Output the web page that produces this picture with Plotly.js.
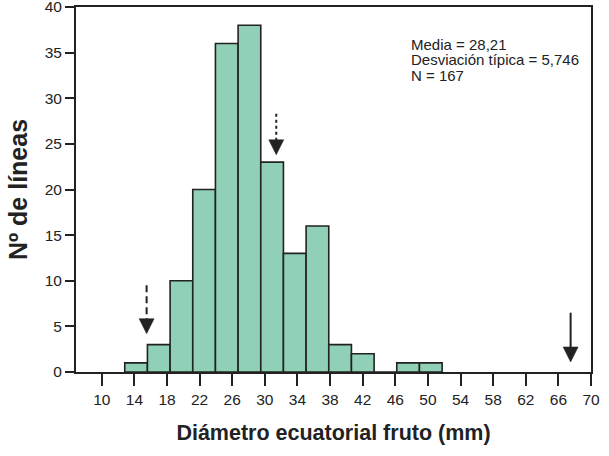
<!DOCTYPE html>
<html>
<head>
<meta charset="utf-8">
<script src="https://cdn.plot.ly/plotly-3.0.1.min.js"></script>
<style>
  html, body { margin: 0; padding: 0; background: #fff; }
  #chart { width: 609px; height: 456px; }
</style>
</head>
<body>
<div id="chart"></div>
<script>
// Histogram of equatorial fruit diameter (mm): bin layout and counts per bin
const binStart = 12.82;
const binWidth = 2.78;
const counts = [1, 3, 10, 20, 36, 38, 23, 13, 16, 3, 2, 0, 1, 1];

// Axis ticks
const xTickVals = [10, 14, 18, 22, 26, 30, 34, 38, 42, 46, 50, 54, 58, 62, 66, 70];
const yTickVals = [0, 5, 10, 15, 20, 25, 30, 35, 40];

// Summary statistics shown in the corner
const statLines = ['Media = 28,21', 'Desviación típica = 5,746', 'N = 167'];

// Marker arrows: x position, shaft top, tip (in data units) and shaft style
const arrowX = [15.5, 31.4, 67.5];
const arrowTop = [9.5, 28.3, 6.5];
const arrowTip = [4.2, 23.8, 1.1];
const arrowDash = ['7px,4px', 'dot', 'solid'];

const sans = 'Liberation Sans, Arial, Helvetica, sans-serif';
const ink = '#222222';
const HEAD_PX = 15;   // arrow head height in pixels
const HALF_W = 7.5;   // arrow head half-width in pixels

const centers = counts.map((_, i) => binStart + binWidth * (i + 0.5));

const bars = {
  type: 'bar',
  x: centers,
  y: counts,
  width: counts.map(() => binWidth),
  marker: { color: '#8fd0b6', line: { color: ink, width: 1.6 } },
  hoverinfo: 'x+y'
};

const shapes = [];
arrowX.forEach((x, i) => {
  // shaft from the top down into the head
  shapes.push({
    type: 'line', xref: 'x', yref: 'y',
    x0: x, x1: x, y0: arrowTop[i], y1: arrowTip[i] + 1.4,
    line: { color: ink, width: 2, dash: arrowDash[i] }
  });
  // head: downward triangle with its tip at arrowTip
  shapes.push({
    type: 'path', xref: 'x', yref: 'y',
    xsizemode: 'pixel', ysizemode: 'pixel',
    xanchor: x, yanchor: arrowTip[i],
    path: `M${-HALF_W},${HEAD_PX} L${HALF_W},${HEAD_PX} L0,0 Z`,
    fillcolor: ink, line: { color: ink, width: 0.5 }
  });
});

const statY = [35.9, 34.2, 32.5];
const annotations = statLines.map((t, i) => ({
  text: t, xref: 'x', yref: 'y', x: 47.7, y: statY[i],
  xanchor: 'left', yanchor: 'middle', showarrow: false,
  font: { family: sans, size: 15, color: ink }
}));

const layout = {
  width: 609, height: 456,
  margin: { l: 76, r: 18, t: 7, b: 84, pad: 0 },
  paper_bgcolor: '#ffffff', plot_bgcolor: '#ffffff',
  showlegend: false,
  bargap: 0,
  xaxis: {
    range: [6.84, 70],
    tickvals: xTickVals,
    ticktext: xTickVals.map(String),
    ticks: 'outside', ticklen: 12, tickwidth: 2, tickcolor: ink,
    showline: true, linecolor: ink, linewidth: 2, mirror: true,
    showgrid: false, zeroline: false,
    ticklabeloverflow: 'allow',
    tickfont: { family: sans, size: 15.5, color: ink },
    title: { text: 'Diámetro ecuatorial fruto (mm)', standoff: 18,
             font: { family: sans, size: 21.5, color: ink, weight: 'bold' } }
  },
  yaxis: {
    range: [0, 40],
    tickvals: yTickVals,
    ticks: 'outside', ticklen: 9, tickwidth: 2, tickcolor: ink,
    showline: true, linecolor: ink, linewidth: 2, mirror: true,
    showgrid: false, zeroline: false,
    ticklabeloverflow: 'allow',
    tickfont: { family: sans, size: 15.5, color: ink },
    title: { text: 'Nº de líneas', standoff: 10,
             font: { family: sans, size: 25, color: ink, weight: 'bold' } }
  },
  shapes: shapes,
  annotations: annotations
};

Plotly.newPlot('chart', [bars], layout, { displayModeBar: false, staticPlot: true });
</script>
</body>
</html>
